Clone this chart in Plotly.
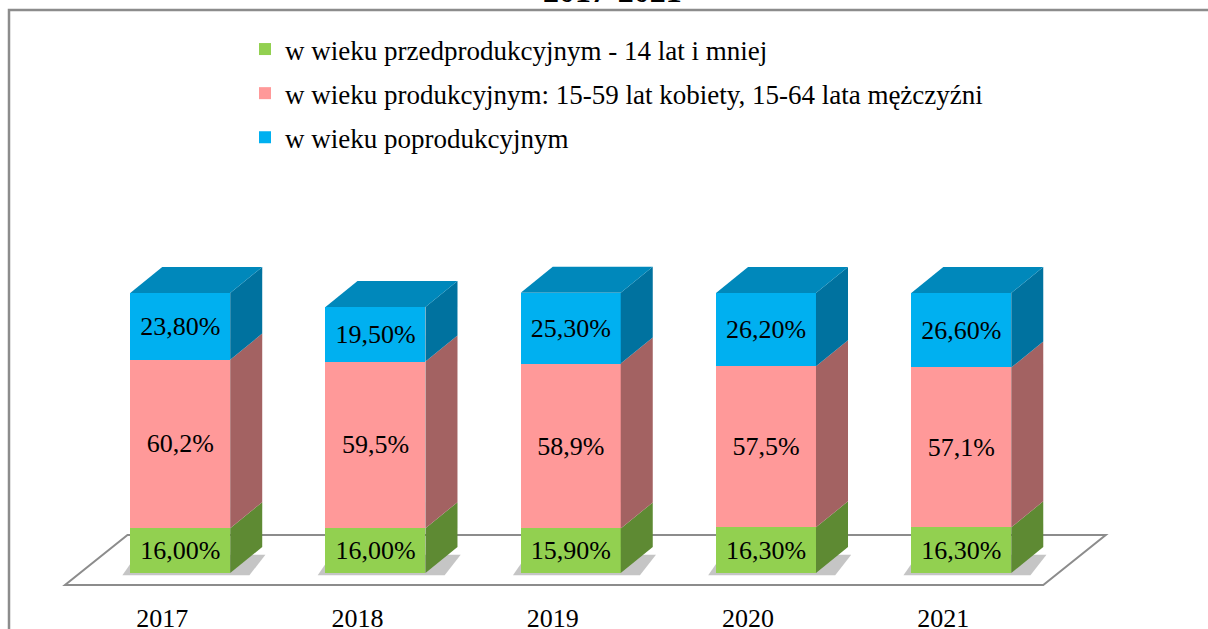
import plotly.graph_objects as go

# ---- data ----
years = ["2017", "2018", "2019", "2020", "2021"]
pre_prod = [16.0, 16.0, 15.9, 16.3, 16.3]
prod = [60.2, 59.5, 58.9, 57.5, 57.1]
post_prod = [23.8, 19.5, 25.3, 26.2, 26.6]
series_names = [
    "w wieku przedprodukcyjnym - 14 lat i mniej",
    "w wieku produkcyjnym: 15-59 lat kobiety, 15-64 lata mężczyźni",
    "w wieku poprodukcyjnym",
]
decimals = [2, 1, 2]
title_text = "2017-2021"

# ---- styling ----
FONT = "Liberation Serif"
front_cols = ["#92D050", "#FF9999", "#00B0F0"]
side_cols = ["#5E8A33", "#A36262", "#00729F"]
top_col = "#0088BB"
BAR_W = 0.512
DX = 0.164   # depth offset in x units
DY = 9.3     # depth offset in y units

series = [pre_prod, prod, post_prod]
xs = list(range(len(years)))

def fmt(v, d):
    return (f"{v:.{d}f}").replace(".", ",") + "%"

fig = go.Figure()
for vals, name, col, d in zip(series, series_names, front_cols, decimals):
    fig.add_trace(go.Bar(
        x=xs, y=vals, name=name, width=BAR_W,
        marker=dict(color=col, line=dict(width=0)),
        text=[fmt(v, d) for v in vals],
        textposition="inside", insidetextanchor="middle",
        constraintext="none", textangle=0,
        textfont=dict(family=FONT, size=26, color="black"),
        legendgroup=name, hoverinfo="skip",
    ))

shapes = []
# floor
fx0, fx1, fdx = -0.59, 4.42, 0.32
fy0, fy1 = -4.3, 13.6
shapes.append(dict(
    type="path", xref="x", yref="y", layer="below",
    path=f"M{fx0},{fy0} L{fx1},{fy0} L{fx1+fdx},{fy1} L{fx0+fdx},{fy1} Z",
    fillcolor="white", line=dict(color="#8c8c8c", width=2),
))
# soft shadows under bars
for i in xs:
    xl = i - BAR_W / 2
    shapes.append(dict(
        type="path", xref="x", yref="y", layer="below",
        path=(f"M{xl-0.04},{-0.8} L{xl+BAR_W+DX*0.6},{-0.8} "
              f"L{xl+BAR_W+DX*1.1},{DY*0.7} L{xl+DX*0.2},{DY*0.7} Z"),
        fillcolor="rgba(90,90,90,0.35)", line=dict(width=0),
    ))

# side and top faces
for i in xs:
    xr = i + BAR_W / 2
    xl = i - BAR_W / 2
    base = 0.0
    for s, vals in enumerate(series):
        top = base + vals[i]
        shapes.append(dict(
            type="path", xref="x", yref="y", layer="above",
            path=(f"M{xr},{base} L{xr+DX},{base+DY} "
                  f"L{xr+DX},{top+DY} L{xr},{top} Z"),
            fillcolor=side_cols[s], line=dict(width=0),
        ))
        base = top
    shapes.append(dict(
        type="path", xref="x", yref="y", layer="above",
        path=(f"M{xl},{base} L{xl+DX},{base+DY} "
              f"L{xr+DX},{base+DY} L{xr},{base} Z"),
        fillcolor=top_col, line=dict(width=0),
    ))

# page layout (body margin removed by post_script)
W, H = 1208, 629
L, R = 24, W - 1137
T, B = 250, H - 600
PW = W - L - R
PH = H - T - B
def px_x(p):
    return (p - L) / PW
def px_y(p):
    return (H - B - p) / PH
shapes.append(dict(
    type="rect", xref="paper", yref="paper", layer="below",
    x0=px_x(9), x1=px_x(1240), y0=px_y(680), y1=px_y(10),
    line=dict(color="#8c8c8c", width=2.5), fillcolor="rgba(0,0,0,0)",
))

fig.update_layout(
    width=W, height=H,
    margin=dict(l=L, r=R, t=T, b=B, autoexpand=False),
    barmode="stack",
    paper_bgcolor="white", plot_bgcolor="rgba(0,0,0,0)",
    font=dict(family=FONT, size=26, color="black"),
    showlegend=True,
    hovermode=False,
    legend=dict(
        xref="paper", yref="paper",
        x=px_x(245), y=px_y(25), xanchor="left", yanchor="top",
        traceorder="grouped", tracegroupgap=6,
        font=dict(family=FONT, size=27, color="black"),
        bgcolor="rgba(0,0,0,0)", itemclick=False, itemdoubleclick=False,
    ),
    xaxis=dict(
        range=[-0.8, 4.9], tickvals=xs, ticktext=years,
        showgrid=False, zeroline=False, showline=False, ticks="",
        tickfont=dict(family=FONT, size=26, color="black"),
        ticklabelshift=-18, fixedrange=True, automargin=False,
    ),
    yaxis=dict(range=[-9.64, 115.36], visible=False, fixedrange=True),
    shapes=shapes,
    annotations=[dict(
        text=f"<b>{title_text}</b>", xref="paper", yref="paper",
        x=px_x(612), y=px_y(11), xanchor="center", yanchor="bottom",
        showarrow=False, font=dict(family=FONT, size=32, color="black"),
    )],
)

fig.write_html("out.html",
               config={"displayModeBar": False},
               post_script="document.body.style.margin='0px';")
